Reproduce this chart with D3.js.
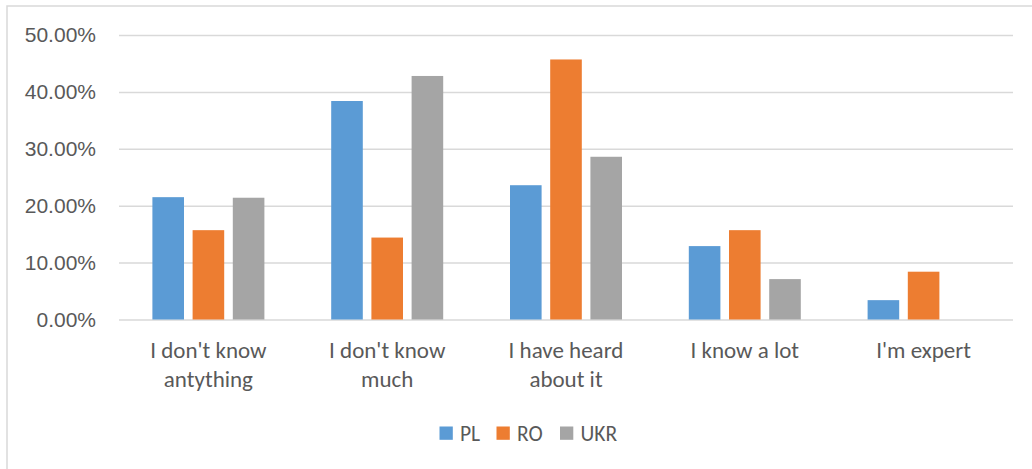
<!DOCTYPE html>
<html>
<head>
<meta charset="utf-8">
<script src="https://cdn.jsdelivr.net/npm/d3@7"></script>
<style>
  body { margin: 0; background: #fff; }
  svg { display: block; font-family: Carlito, Lato, sans-serif; }
  .tick text, .lbl { fill: #595959; }
</style>
</head>
<body>
<svg class="plot" width="1032" height="469"></svg>
<script>
  // values
  var categories = ["I don't know antything", "I don't know much", "I have heard about it", "I know a lot", "I'm expert"]
  var seriesNames = ["PL", "RO", "UKR"]
  var plValues = [0.215, 0.384, 0.236, 0.129, 0.034]
  var roValues = [0.157, 0.144, 0.457, 0.157, 0.084]
  var ukrValues = [0.214, 0.428, 0.286, 0.071, 0]
  var yTicks = [0, 0.1, 0.2, 0.3, 0.4, 0.5]
  var colors = ["#5b9bd5", "#ed7d31", "#a5a5a5"]

  var width = 1032
  var height = 469
  var margin = { top: 35, right: 19, bottom: 149.5, left: 119 }
  const svg = d3.select("svg.plot")

  // chart frame
  svg.append("rect")
    .attr("x", 7).attr("y", 6)
    .attr("width", 1040).attr("height", 480)
    .attr("fill", "none")
    .attr("stroke", "#d9d9d9")
    .attr("stroke-width", 1.5)

  var rows = categories.map((c, i) => ({ cat: c, vals: [plValues[i], roValues[i], ukrValues[i]] }))

  const xScale = d3.scaleBand().domain(categories).range([margin.left, width - margin.right])
  var groupPad = 33.4
  const seriesScale = d3.scaleBand().domain(seriesNames)
    .range([groupPad, xScale.bandwidth() - groupPad]).paddingInner(0.214)
  const yScale = d3.scaleLinear().domain([0, 0.5]).range([height - margin.bottom, margin.top])

  // gridlines + tick labels
  let leftAxis = d3.axisLeft(yScale).tickValues(yTicks).tickFormat(d3.format(".2%"))
    .tickSize(-(width - margin.left - margin.right)).tickPadding(23)
  let gy = svg.append("g")
    .attr("class", "y axis")
    .attr("transform", "translate(" + margin.left + ",0)")
    .call(leftAxis)
  gy.select(".domain").remove()
  gy.selectAll(".tick line").attr("stroke", "#d9d9d9").attr("stroke-width", 1.5)
  gy.selectAll(".tick text").attr("font-size", 21)

  // bars
  rows.forEach(r => {
    var g = svg.append("g").attr("transform", "translate(" + xScale(r.cat) + ",0)")
    g.selectAll("rect")
      .data(r.vals)
      .join("rect")
      .attr("x", (d, i) => seriesScale(seriesNames[i]))
      .attr("width", seriesScale.bandwidth())
      .attr("y", d => yScale(d))
      .attr("height", d => yScale(0) - yScale(d))
      .attr("fill", (d, i) => colors[i])
  })

  // category labels, wrapped like excel does
  var maxLabel = 160
  categories.forEach(c => {
    var t = svg.append("text")
      .attr("class", "lbl")
      .attr("text-anchor", "middle")
      .attr("font-size", 23)
      .attr("x", xScale(c) + xScale.bandwidth() / 2)
      .attr("y", 358)
    var words = c.split(" ")
    var line = []
    var tspan = t.append("tspan").attr("x", xScale(c) + xScale.bandwidth() / 2).attr("dy", 0)
    words.forEach(w => {
      line.push(w)
      tspan.text(line.join(" "))
      if (tspan.node().getComputedTextLength() > maxLabel && line.length > 1) {
        line.pop()
        tspan.text(line.join(" "))
        line = [w]
        tspan = t.append("tspan").attr("x", xScale(c) + xScale.bandwidth() / 2).attr("dy", 29).text(w)
      }
    })
  })

  // legend
  var legendX = [439.5, 496.5, 560]
  seriesNames.forEach((s, i) => {
    svg.append("rect")
      .attr("x", legendX[i]).attr("y", 426.5)
      .attr("width", 13.3).attr("height", 13.3)
      .attr("fill", colors[i])
    svg.append("text")
      .attr("class", "lbl")
      .attr("x", legendX[i] + 20.5)
      .attr("y", 440.5)
      .attr("font-size", 21.5)
      .text(s)
  })
</script>
</body>
</html>
